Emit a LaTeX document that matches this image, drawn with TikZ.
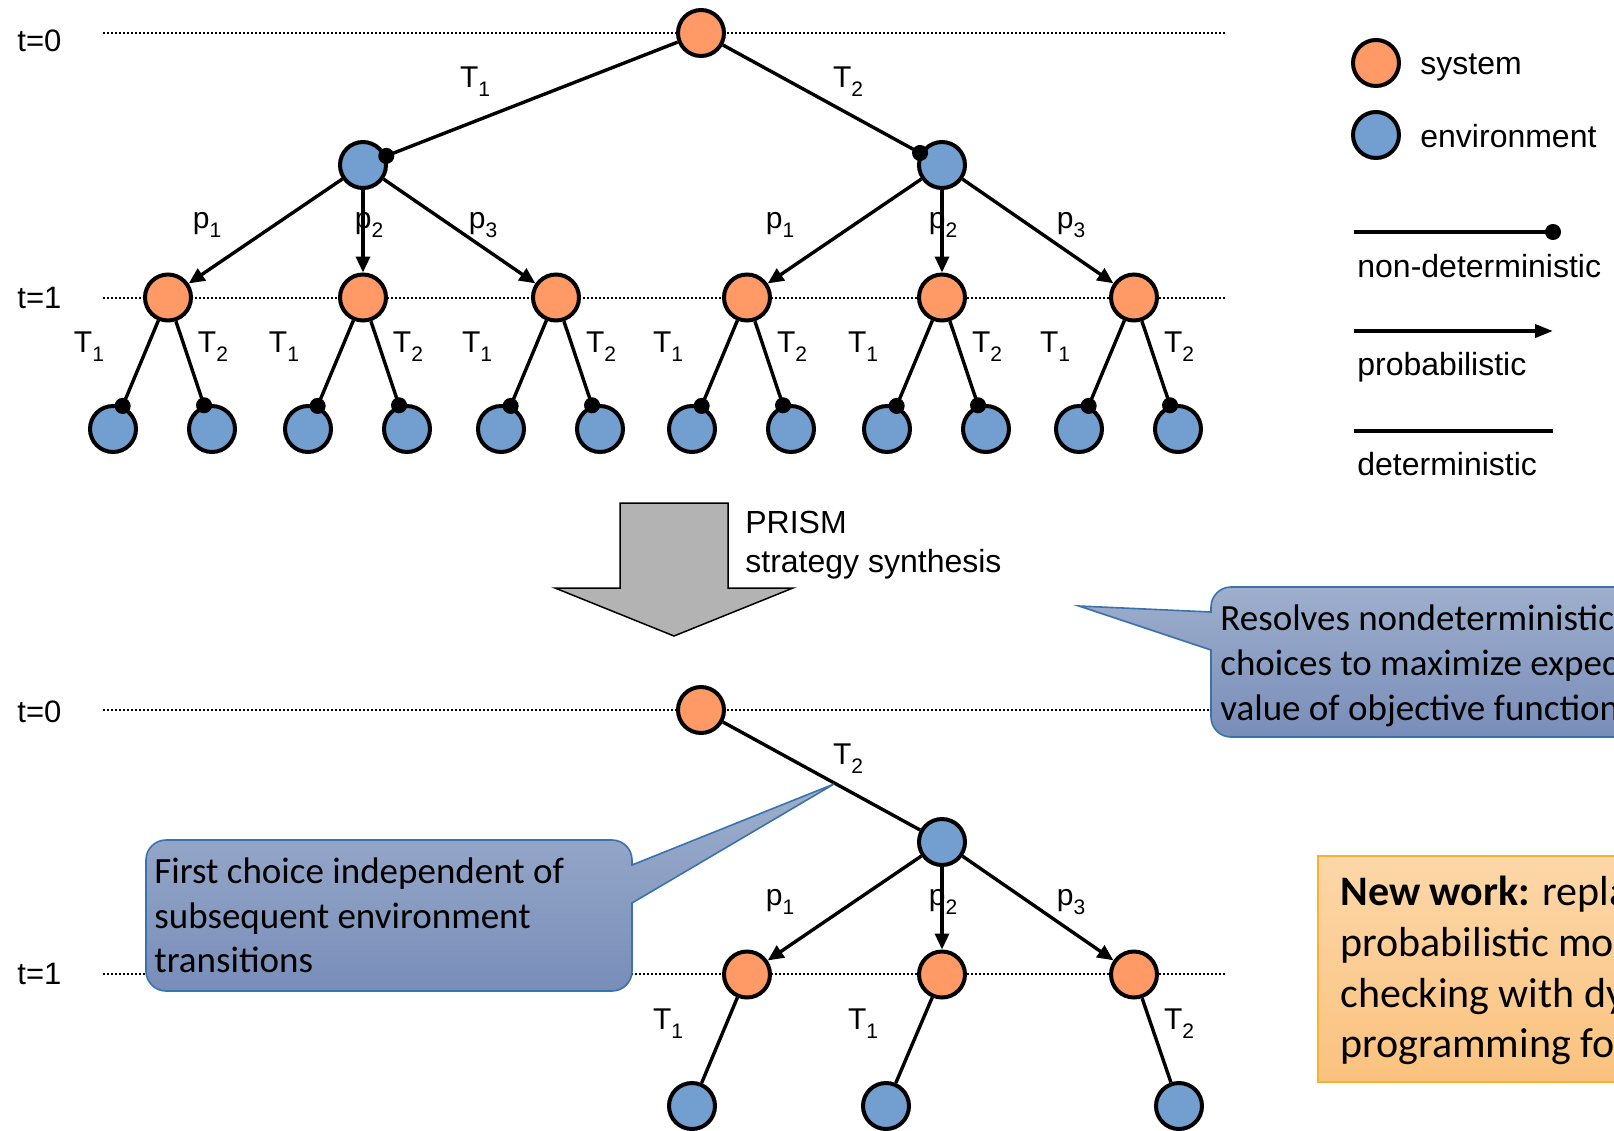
\documentclass[tikz,border=0pt]{standalone}
\usepackage{fontspec}
\setmainfont{Liberation Sans}
\newfontfamily\calib{Carlito}
\usetikzlibrary{arrows.meta}

\definecolor{sysfill}{HTML}{FF9966}
\definecolor{envfill}{HTML}{729FCF}
\definecolor{arrowgray}{HTML}{B3B3B3}
\definecolor{calltop}{HTML}{9EAFCD}
\definecolor{callbot}{HTML}{788DB9}
\definecolor{callline}{HTML}{3A72AC}
\definecolor{notetop}{HTML}{FDD7A8}
\definecolor{notebot}{HTML}{FAC27E}
\definecolor{noteline}{HTML}{F8B230}

% lowered subscript set in the running font
\newcommand\lsub[1]{\raisebox{-4.5pt}{\fontsize{10.5}{12}\selectfont #1}}

\tikzset{
  sysnode/.style={circle, draw, line width=2pt, fill=sysfill, minimum size=23pt, inner sep=0pt},
  envnode/.style={circle, draw, line width=2pt, fill=envfill, minimum size=23pt, inner sep=0pt},
  ndet/.style={line width=1.7pt, -{Circle[length=8pt]}, shorten >=-4pt},
  prob/.style={line width=1.7pt, -{Triangle[length=8pt,width=7pt]}},
  det/.style={line width=1.7pt},
  timeline/.style={line width=1pt, dash pattern=on 1pt off 1pt},
  lbl/.style={font=\fontsize{15}{18}\selectfont, inner sep=0pt},
  tlabel/.style={font=\fontsize{15.5}{18}\selectfont, inner sep=0pt, anchor=west},
  legtext/.style={font=\fontsize{16}{19}\selectfont, inner sep=0pt, anchor=base west},
  calltext/.style={font=\calib\fontsize{18.5}{22}\selectfont, inner sep=0pt, anchor=base west},
  notetext/.style={font=\calib\fontsize{21}{25}\selectfont, inner sep=0pt, anchor=base west},
  callout/.style={draw=callline, line width=0.8pt, top color=calltop, bottom color=callbot},
}

\begin{document}
\begin{tikzpicture}[x=0.5pt, y=-0.5pt]
\useasboundingbox (0,0) rectangle (1614,1131);
\clip (0,0) rectangle (1614,1131);

% ---------- time levels ----------
\foreach \n/\y in {a/33, b/297.5, c/710, d/974}{
  \coordinate (tl\n1) at (103,\y);
  \coordinate (tl\n2) at (1227,\y);
  \draw[timeline] (tl\n1) -- (tl\n2);
}
\node[tlabel] (ta) at (17,41)  {t=0};
\node[tlabel] (tb) at (17,298) {t=1};
\node[tlabel] (tc) at (17,712) {t=0};
\node[tlabel] (td) at (17,974) {t=1};

% ---------- full game tree ----------
\node[sysnode] (r) at (701,33) {};
\node[envnode] (e1) at (363,165) {};
\node[envnode] (e2) at (942,165) {};
\foreach \i/\x in {1/168, 2/363, 3/556, 4/747, 5/942, 6/1134}{
  \node[sysnode] (s\i) at (\x,297.5) {};
  \node[envnode] (la\i) at (\x-55,429) {};
  \node[envnode] (lb\i) at (\x+44,429) {};
  \draw[ndet] (s\i) -- (la\i);
  \draw[ndet] (s\i) -- (lb\i);
  \node[lbl] (ka\i) at (\x-79,347) {T\lsub{1}};
  \node[lbl] (kb\i) at (\x+45,347) {T\lsub{2}};
}
\draw[ndet] (r) -- (e1);
\draw[ndet] (r) -- (e2);
\foreach \i in {1,2,3}{ \draw[prob] (e1) -- (s\i); }
\foreach \i in {4,5,6}{ \draw[prob] (e2) -- (s\i); }

\node[lbl] (k01) at (475,82) {T\lsub{1}};
\node[lbl] (k02) at (848,82) {T\lsub{2}};
\node[lbl] (q1) at (207,225)  {p\lsub{1}};
\node[lbl] (q2) at (369,225)  {p\lsub{2}};
\node[lbl] (q3) at (483,225)  {p\lsub{3}};
\node[lbl] (q4) at (780,225)  {p\lsub{1}};
\node[lbl] (q5) at (943,225)  {p\lsub{2}};
\node[lbl] (q6) at (1071,225) {p\lsub{3}};

% ---------- legend ----------
\node[sysnode] (legs) at (1376,63) {};
\node[envnode] (lege) at (1376,135) {};
\node[legtext] (legst) at (1420,74)  {system};
\node[legtext] (leget) at (1420,147) {environment};
\coordinate (lna) at (1354,232); \coordinate (lnb) at (1553,232);
\coordinate (lpa) at (1354,331); \coordinate (lpb) at (1553,331);
\coordinate (lda) at (1354,431); \coordinate (ldb) at (1553,431);
\draw[ndet, line width=1.9pt] (lna) -- (lnb);
\draw[line width=1.9pt, -{Triangle[length=9pt,width=6.5pt]}] (lpa) -- (lpb);
\draw[det, line width=1.9pt] (lda) -- (ldb);
\node[legtext] (legn) at (1357,277) {non-deterministic};
\node[legtext] (legp) at (1357,375) {probabilistic};
\node[legtext] (legd) at (1357,475) {deterministic};

% ---------- synthesis arrow ----------
\draw[fill=arrowgray, line width=0.75pt]
  (620,503) -- (728,503) -- (728,588) -- (793,588) -- (674,636)
  -- (555,588) -- (620,588) -- cycle;
\node[legtext] (prism) at (745,533) {PRISM};
\node[legtext] (synth) at (745,572) {strategy synthesis};

% ---------- resolved strategy tree ----------
\node[sysnode] (rb) at (701,710) {};
\node[envnode] (eb) at (942,842) {};
\node[sysnode] (sb1) at (747,974.5) {};
\node[sysnode] (sb2) at (942,974.5) {};
\node[sysnode] (sb3) at (1134,974.5) {};
\node[envnode] (lf1) at (692,1106) {};
\node[envnode] (lf2) at (886,1106) {};
\node[envnode] (lf3) at (1179,1106) {};
\draw[det] (rb) -- (eb);
\draw[prob] (eb) -- (sb1);
\draw[prob] (eb) -- (sb2);
\draw[prob] (eb) -- (sb3);
\draw[det] (sb1) -- (lf1);
\draw[det] (sb2) -- (lf2);
\draw[det] (sb3) -- (lf3);
\node[lbl] (m0) at (848,759)  {T\lsub{2}};
\node[lbl] (m1) at (780,902)  {p\lsub{1}};
\node[lbl] (m2) at (943,902)  {p\lsub{2}};
\node[lbl] (m3) at (1071,902) {p\lsub{3}};
\node[lbl] (m4) at (668,1024) {T\lsub{1}};
\node[lbl] (m5) at (863,1024) {T\lsub{1}};
\node[lbl] (m6) at (1179,1024) {T\lsub{2}};

% ---------- callouts ----------
\coordinate (tipa) at (1079,606);
\path[callout] (tipa) -- (1211,612) -- (1211,607)
  arc[start angle=180, end angle=90, radius=10pt] -- (1700,587) -- (1700,737)
  -- (1231,737) arc[start angle=270, end angle=180, radius=10pt]
  -- (1211,650) -- cycle;
\node[calltext] (ca1) at (1220,630) {Resolves nondeterministic};
\node[calltext] (ca2) at (1220,675) {choices to maximize expected};
\node[calltext] (ca3) at (1220,720) {value of objective function};

\coordinate (tipb) at (834,784);
\path[callout] (tipb) -- (632,865) -- (632,860)
  arc[start angle=0, end angle=90, radius=10pt] -- (166,840)
  arc[start angle=90, end angle=180, radius=10pt] -- (146,971)
  arc[start angle=180, end angle=270, radius=10pt] -- (612,991)
  arc[start angle=270, end angle=360, radius=10pt] -- (632,903) -- cycle;
\node[calltext] (cb1) at (154,883) {First choice independent of};
\node[calltext] (cb2) at (154,928) {subsequent environment};
\node[calltext] (cb3) at (154,972) {transitions};

% ---------- note box ----------
\path[draw=noteline, line width=0.8pt, top color=notetop, bottom color=notebot]
  (1318,856) rectangle (1700,1082);
\node[notetext] (n1) at (1340,905)  {\textbf{New work:} replace};
\node[notetext] (n2) at (1340,956)  {probabilistic model};
\node[notetext] (n3) at (1340,1007) {checking with dynamic};
\node[notetext] (n4) at (1340,1057) {programming for};
\end{tikzpicture}
\end{document}
